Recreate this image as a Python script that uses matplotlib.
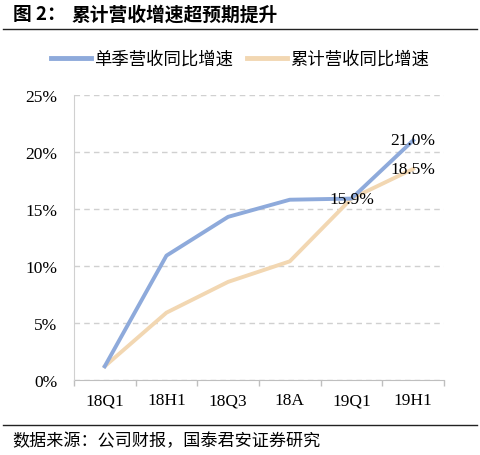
import numpy as np
import matplotlib.pyplot as plt
from matplotlib.lines import Line2D

plt.rcParams['font.family'] = ['Liberation Serif', 'Noto Sans CJK SC', 'DejaVu Sans']

# data
categories = ["18Q1", "18H1", "18Q3", "18A", "19Q1", "19H1"]
quarterly_growth = [1.2, 10.9, 14.3, 15.8, 15.9, 21.0]
cumulative_growth = [1.2, 5.9, 8.6, 10.4, 15.9, 18.5]
labels_q = {5: "21.0%", 4: "15.9%"}
labels_c = {5: "18.5%"}

blue = "#8eaadb"
tan = "#f2d7b2"
cjk = ['Noto Sans CJK SC', 'DejaVu Sans']

fig = plt.figure(figsize=(4.8, 4.56), dpi=100)
ax = fig.add_axes([0.154, 0.1645, 0.771, 0.6255])

x = np.arange(len(categories))
ax.plot(x, quarterly_growth, color=blue, lw=2.8, solid_joinstyle='round', zorder=3)
ax.plot(x, cumulative_growth, color=tan, lw=2.8, solid_joinstyle='round', zorder=2)

for i, t in labels_q.items():
    ax.text(x[i], quarterly_growth[i], t, ha='center', va='center', fontsize=12.5, zorder=4)
for i, t in labels_c.items():
    ax.text(x[i], cumulative_growth[i], t, ha='center', va='center', fontsize=12.5, zorder=4)

ax.set_xlim(-0.5, len(categories) - 0.5)
ax.set_ylim(0, 25)
ax.set_yticks(np.arange(0, 26, 5))
ax.set_yticklabels([f"{v}%" for v in range(0, 26, 5)], fontsize=12.5)
ax.set_xticks(x)
ax.set_xticklabels(categories, fontsize=12.5)
ax.set_xticks(np.arange(-0.5, len(categories)), minor=True)
ax.tick_params(axis='x', which='major', length=0, pad=9)
ax.tick_params(axis='x', which='minor', length=4, color='#bfbfbf', width=1)
ax.tick_params(axis='y', length=0, pad=12)
ax.grid(axis='y', color='#d0d0d0', ls=(0, (4, 3)), lw=1)
for s in ['top', 'right']:
    ax.spines[s].set_visible(False)
ax.spines['left'].set_color('#d0d0d0')
ax.spines['bottom'].set_color('#bfbfbf')
ax.spines['bottom'].set_zorder(1)

handles = [Line2D([], [], color=blue, lw=3.5), Line2D([], [], color=tan, lw=3.5)]
fig.legend(handles, ["单季营收同比增速", "累计营收同比增速"], loc='center',
           bbox_to_anchor=(0.5, 1 - 60 / 456), ncol=2, frameon=False,
           handlelength=2.3, handletextpad=0.17, columnspacing=0.86,
           prop={'family': cjk, 'size': 12.5})

# title, rules and source
fig.text(0.028, 1 - 15 / 456, "图 2：", fontsize=13.5, fontweight='bold',
         va='center', ha='left', family=cjk)
fig.text(0.15, 1 - 15 / 456, "累计营收增速超预期提升", fontsize=13.5, fontweight='bold',
         va='center', ha='left', family=cjk)
fig.add_artist(Line2D([0.006, 0.994], [1 - 30 / 456] * 2, color='#222222', lw=1))
fig.add_artist(Line2D([0.006, 0.994], [1 - 426 / 456] * 2, color='#222222', lw=1))
fig.text(0.026, 1 - 441 / 456, "数据来源：公司财报，国泰君安证券研究", fontsize=12.3,
         va='center', ha='left', family=cjk)

fig.savefig("out.png", dpi=100)
